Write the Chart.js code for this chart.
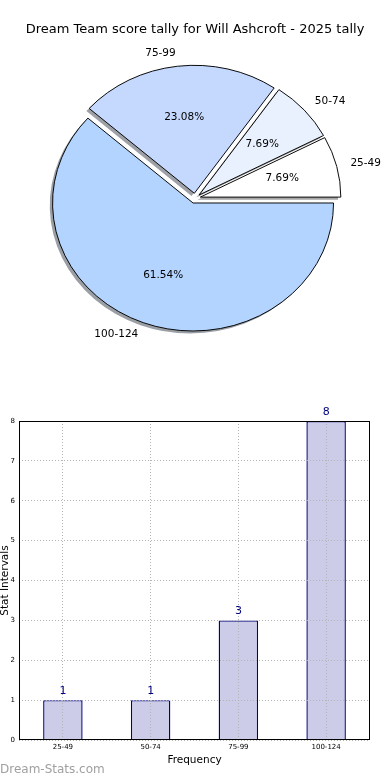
<!DOCTYPE html>
<html><head><meta charset="utf-8">
<script src="https://cdn.jsdelivr.net/npm/chart.js@4"></script>
<style>
html,body{margin:0;padding:0;background:#fff;width:390px;height:780px;overflow:hidden}
#pie{position:absolute;left:0;top:0}
#bar{position:absolute;left:0;top:380px}
</style></head><body>
<canvas id="pie" width="390" height="380"></canvas>
<canvas id="bar" width="390" height="400"></canvas>
<script>
const chartTitle = 'Dream Team score tally for Will Ashcroft - 2025 tally';
const categories = ['25-49', '50-74', '75-99', '100-124'];
const counts = [1, 1, 3, 8];
const sliceColors = ['#ffffff', '#e9f1fe', '#c5d9fe', '#b3d4fe'];
const yTicks = [0, 1, 2, 3, 4, 5, 6, 7, 8];
const xAxisTitle = 'Frequency';
const yAxisTitle = 'Stat Intervals';
const watermark = 'Dream-Stats.com';

const FONT = "'DejaVu Sans', sans-serif";
const SY = 128 / 140.5;
const EXPLODE = 5.5;
const SHADOW_DX = -2.8, SHADOW_DY = 2.8;

const pieLabels = categories.slice().reverse();
const pieValues = counts.slice().reverse();
const pieColors = sliceColors.slice().reverse();
const total = counts.reduce((a, b) => a + b, 0);

function shade(hex) {
  const n = parseInt(hex.slice(1), 16);
  const r = (n >> 16) & 255, g = (n >> 8) & 255, b = n & 255;
  const f = v => Math.round(0.15 * v + 127.5);
  return `rgb(${f(r)},${f(g)},${f(b)})`;
}

const piePlugin = {
  id: 'piePlugin',
  beforeDatasetsDraw(chart) {
    const ctx = chart.ctx;
    const meta = chart.getDatasetMeta(0);
    const cx = meta.data[0].x, cy = meta.data[0].y;
    ctx.save();
    ctx.translate(cx, cy); ctx.scale(1, SY); ctx.translate(-cx, -cy);
    meta.data.forEach(arc => {
      const a = (arc.startAngle + arc.endAngle) / 2;
      const saved = arc.options;
      arc.options = Object.assign({}, saved, {backgroundColor: shade(saved.backgroundColor), borderWidth: 0});
      ctx.save();
      ctx.translate(EXPLODE * Math.cos(a) + SHADOW_DX, EXPLODE * Math.sin(a) + SHADOW_DY);
      arc.draw(ctx);
      ctx.restore();
      arc.options = saved;
    });
    meta.data.forEach(arc => {
      const a = (arc.startAngle + arc.endAngle) / 2;
      ctx.save();
      ctx.translate(EXPLODE * Math.cos(a), EXPLODE * Math.sin(a));
      arc.draw(ctx);
      ctx.restore();
    });
    ctx.restore();

    ctx.save();
    ctx.font = `10.5px ${FONT}`;
    ctx.fillStyle = '#000';
    ctx.textBaseline = 'middle';
    meta.data.forEach((arc, i) => {
      const a = (arc.startAngle + arc.endAngle) / 2;
      const c = Math.cos(a), s = Math.sin(a);
      const r = arc.outerRadius;
      const lx = cx + (EXPLODE + 1.1 * r) * c, ly = cy + (EXPLODE + 1.1 * r) * s * SY;
      ctx.textAlign = c < 0 ? 'right' : 'left';
      ctx.fillText(pieLabels[i], lx, ly);
      const px = cx + (EXPLODE + 0.6 * r) * c, py = cy + (EXPLODE + 0.6 * r) * s * SY;
      ctx.textAlign = 'center';
      ctx.fillText((pieValues[i] / total * 100).toFixed(2) + '%', px, py);
    });
    ctx.restore();
    return false;
  },
  afterDraw(chart) {
    const ctx = chart.ctx;
    ctx.save();
    ctx.font = `13px ${FONT}`;
    ctx.fillStyle = '#000';
    ctx.textAlign = 'center';
    ctx.textBaseline = 'middle';
    ctx.fillText(chartTitle, 195, 30);
    ctx.restore();
  }
};

new Chart(document.getElementById('pie'), {
  type: 'pie',
  data: {
    labels: pieLabels,
    datasets: [{
      data: pieValues,
      backgroundColor: pieColors,
      borderColor: '#000',
      borderWidth: 1,
      borderJoinStyle: 'miter',
      hoverOffset: 0
    }]
  },
  options: {
    responsive: false,
    animation: false,
    events: [],
    rotation: 90,
    radius: 140.5,
    layout: {padding: {top: 16.6, bottom: 0, left: 0, right: 0}},
    plugins: {legend: {display: false}, tooltip: {enabled: false}, title: {display: false}}
  },
  plugins: [piePlugin]
});

const barPlugin = {
  id: 'barPlugin',
  afterDraw(chart) {
    const ctx = chart.ctx;
    const {left, top, right, bottom} = chart.chartArea;
    ctx.save();
    ctx.strokeStyle = '#000';
    ctx.lineWidth = 1;
    ctx.strokeRect(left + 0.5, top + 0.5, right - left - 1, bottom - top - 1);
    const meta = chart.getDatasetMeta(0);
    ctx.font = `11px ${FONT}`;
    ctx.fillStyle = '#000080';
    ctx.textAlign = 'center';
    ctx.textBaseline = 'middle';
    meta.data.forEach((bar, i) => {
      ctx.fillText(String(counts[i]), bar.x, bar.y - 9);
    });
    ctx.font = `12px ${FONT}`;
    ctx.fillStyle = '#a0a0a0';
    ctx.textAlign = 'left';
    ctx.fillText(watermark, 0, 390);
    ctx.restore();
  }
};

const gridStyle = {color: '#b4b4b4', lineWidth: 1, drawTicks: false, z: 1};

new Chart(document.getElementById('bar'), {
  type: 'bar',
  data: {
    labels: categories,
    datasets: [{
      data: counts,
      backgroundColor: 'rgb(204,204,232)',
      borderColor: '#000080',
      borderWidth: 1.4,
      borderSkipped: 'bottom',
      barPercentage: 0.45,
      categoryPercentage: 1.0
    }]
  },
  options: {
    responsive: false,
    animation: false,
    events: [],
    layout: {padding: {top: 41, right: 20, left: 0, bottom: 0}},
    plugins: {legend: {display: false}, tooltip: {enabled: false}},
    scales: {
      x: {
        grid: Object.assign({offset: false}, gridStyle),
        border: {display: false, dash: [1, 2]},
        ticks: {font: {size: 7, family: FONT}, color: '#000', padding: 3, maxRotation: 0},
        title: {display: true, text: xAxisTitle, font: {size: 10.5, family: FONT}, color: '#000', padding: {top: 0, bottom: 13}},
        afterFit(s) { s.height = 40; }
      },
      y: {
        min: 0, max: 8,
        afterBuildTicks(s) { s.ticks = yTicks.map(v => ({value: v})); },
        grid: gridStyle,
        border: {display: false, dash: [1, 2]},
        ticks: {font: {size: 7, family: FONT}, color: '#000', padding: 4},
        title: {display: true, text: yAxisTitle, font: {size: 10.5, family: FONT, lineHeight: 1}, color: '#000', padding: 0},
        afterFit(s) { s.width = 19; }
      }
    }
  },
  plugins: [barPlugin]
});
</script>
</body></html>
